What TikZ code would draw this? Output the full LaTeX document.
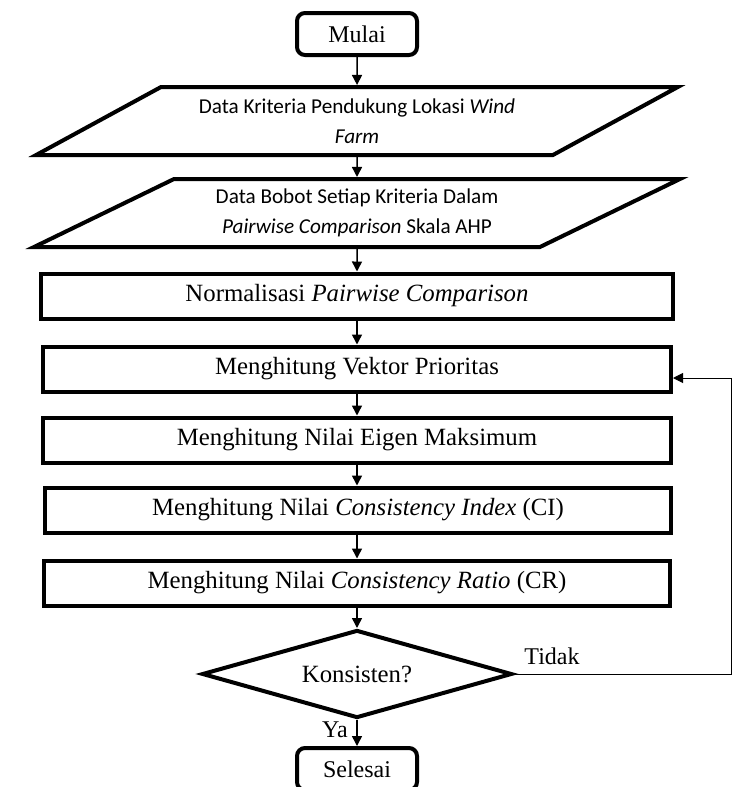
\documentclass[tikz,border=0pt]{standalone}
\usepackage{fontspec}
\setmainfont{Liberation Serif}
\newfontfamily\calfont{Carlito}
\usetikzlibrary{shapes.geometric,arrows.meta}

\begin{document}
\begin{tikzpicture}[x=0.5pt,y=-0.5pt,
    term/.style={draw,line width=2pt,rounded corners=4pt,minimum width=60pt,minimum height=21pt,
      inner sep=0pt,font=\fontsize{12}{14}\selectfont},
    dataio/.style={draw,line width=2pt,trapezium,trapezium left angle=24,trapezium right angle=156,
      trapezium stretches=true,minimum width=#1,minimum height=34pt,inner sep=0pt,align=center,
      font=\calfont\fontsize{10.6}{15}\selectfont},
    proc/.style={draw,line width=2pt,minimum width=#1,minimum height=22.5pt,inner sep=0pt,
      font=\fontsize{12.4}{15}\selectfont},
    flow/.style={-{Triangle[length=5pt,width=5pt]},line width=0.75pt}]
  \clip (0,0) rectangle (732,787);

  \node[term] (mulai) at (357,34) {Mulai};
  \node[dataio=321pt] (kriteria) at (357,121) {Data Kriteria Pendukung Lokasi \textit{Wind}\\\textit{Farm}};
  \node[dataio=324pt] (bobot) at (357,213) {Data Bobot Setiap Kriteria Dalam\\\textit{Pairwise Comparison} Skala AHP};
  \node[proc=316pt] (normal) at (357,296) {Normalisasi \textit{Pairwise Comparison}};
  \node[proc=314pt] (vektor) at (357,369) {Menghitung Vektor Prioritas};
  \node[proc=314pt] (eigen) at (357,440) {Menghitung Nilai Eigen Maksimum};
  \node[proc=313pt] (ci) at (358,510) {Menghitung Nilai \textit{Consistency Index} (CI)};
  \node[proc=313pt] (cr) at (357,583) {Menghitung Nilai \textit{Consistency Ratio} (CR)};
  \node[draw,diamond,aspect=3.5,line width=2pt,minimum width=155pt,minimum height=44pt,inner sep=0pt,
    font=\fontsize{12.4}{15}\selectfont] (cek) at (357,674) {Konsisten?};
  \node[term] (selesai) at (357,769) {Selesai};

  \node[font=\fontsize{12}{14}\selectfont] (tidak) at (552,656) {Tidak};
  \node[font=\fontsize{12}{14}\selectfont] (ya) at (335,730) {Ya};
  \coordinate (sudut) at (731,674);
  \coordinate (balik) at (731,378);

  \draw[flow] (mulai) -- (kriteria);
  \draw[flow] (kriteria) -- (bobot);
  \draw[flow] (bobot) -- (normal);
  \draw[flow] (normal) -- (vektor);
  \draw[flow] (vektor) -- (eigen);
  \draw[flow] (eigen) -- (ci.north -| eigen);
  \draw[flow] (ci.south -| cr) -- (cr);
  \draw[flow] (cr) -- (cek);
  \draw[flow] (cek) -- (selesai);
  \draw[flow,line width=0.5pt] (cek.east) -- (sudut) -- (balik) -- (vektor.east |- balik);
\end{tikzpicture}
\end{document}
